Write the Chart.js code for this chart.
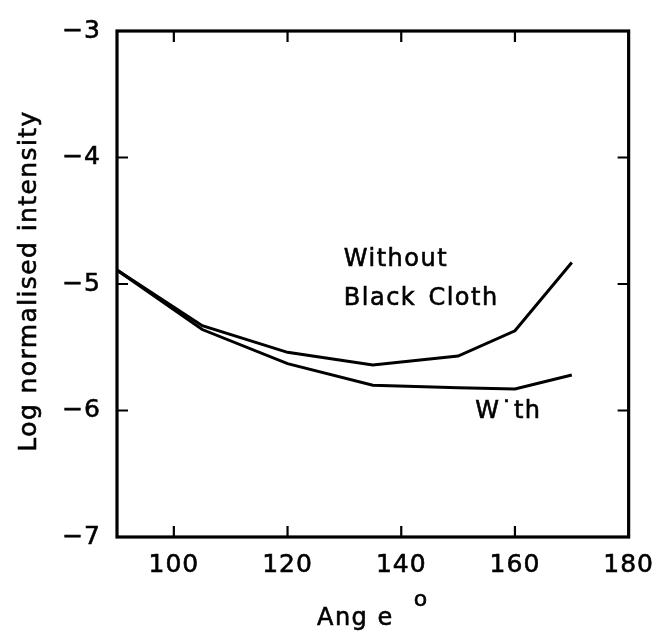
<!DOCTYPE html>
<html>
<head>
<meta charset="utf-8">
<script src="https://cdn.jsdelivr.net/npm/chart.js@4"></script>
<style>
  html, body { margin: 0; padding: 0; background: #fff; }
</style>
</head>
<body>
<canvas id="chartCanvas" width="667" height="637"></canvas>
<script>
// data
const angles = [90, 105, 120, 135, 150, 160, 170];
const withoutCloth = [-4.89, -5.33, -5.54, -5.64, -5.57, -5.37, -4.83];
const withCloth = [-4.89, -5.36, -5.63, -5.80, -5.82, -5.83, -5.72];

const xTicks = [100, 120, 140, 160, 180];
const yTicks = [-7, -6, -5, -4, -3];

// curve labels, placed in data coordinates (x, baseline y)
const curveLabels = [
    { text: "Without", x: 129.9, y: -4.86 },
    { text: "Black Cloth", x: 129.9, y: -5.165 },
    { text: "W\u02D9th", x: 153.0, y: -6.058 },
];

const FONT = "'DejaVu Sans', sans-serif";

function drawText(ctx, text, x, y) {
    ctx.fillText(text, x, y);
    ctx.strokeText(text, x, y);
}

// frame, inward ticks, curve labels and axis titles
const framePlugin = {
    id: "frame",
    beforeLayout(chart) { chart.ctx.letterSpacing = "1px"; },
    beforeDraw(chart) { chart.ctx.letterSpacing = "1px"; },
    afterDraw(chart) {
        const ctx = chart.ctx;
        const a = chart.chartArea;
        const xs = chart.scales.x;
        const ys = chart.scales.y;
        ctx.save();
        ctx.strokeStyle = "#000";
        ctx.lineWidth = 3.2;
        ctx.strokeRect(a.left, a.top, a.right - a.left, a.bottom - a.top);

        ctx.lineWidth = 2.2;
        const len = 11;
        ctx.beginPath();
        xTicks.forEach(v => {
            const px = xs.getPixelForValue(v);
            if (px >= a.right - 1) return;
            ctx.moveTo(px, a.bottom); ctx.lineTo(px, a.bottom - len);
            ctx.moveTo(px, a.top); ctx.lineTo(px, a.top + len);
        });
        yTicks.forEach(v => {
            const py = ys.getPixelForValue(v);
            if (py <= a.top + 1 || py >= a.bottom - 1) return;
            ctx.moveTo(a.left, py); ctx.lineTo(a.left + len, py);
            ctx.moveTo(a.right, py); ctx.lineTo(a.right - len, py);
        });
        ctx.stroke();

        ctx.fillStyle = "#000";
        ctx.lineWidth = 0.6;
        ctx.textBaseline = "alphabetic";
        ctx.textAlign = "left";

        ctx.font = "24px " + FONT;
        ctx.letterSpacing = "1.5px";
        ctx.wordSpacing = "3px";
        curveLabels.forEach(l => {
            drawText(ctx, l.text, xs.getPixelForValue(l.x), ys.getPixelForValue(l.y));
        });
        ctx.wordSpacing = "0px";

        // x axis title with raised degree sign
        const main = "Ang e";
        ctx.font = "24px " + FONT;
        const w1 = ctx.measureText(main).width;
        ctx.font = "22px " + FONT;
        const w2 = ctx.measureText("o").width;
        const gap = 20;
        const cx = (a.left + a.right) / 2;
        const x0 = cx - (w1 + gap + w2) / 2;
        ctx.font = "24px " + FONT;
        drawText(ctx, main, x0, 625);
        ctx.font = "22px " + FONT;
        drawText(ctx, "o", x0 + w1 + gap, 606);

        // y axis title, rotated
        ctx.save();
        ctx.font = "25px " + FONT;
        ctx.letterSpacing = "1.4px";
        ctx.translate(36, (a.top + a.bottom) / 2 - 3);
        ctx.rotate(-Math.PI / 2);
        ctx.textAlign = "center";
        drawText(ctx, "Log normalised intensity", 0, 0);
        ctx.restore();
        ctx.restore();
    }
};

const ctx = document.getElementById("chartCanvas").getContext("2d");
const chart = new Chart(ctx, {
    type: "line",
    data: {
        labels: angles,
        datasets: [
            {
                label: "Without Black Cloth",
                data: angles.map((a, i) => ({ x: a, y: withoutCloth[i] })),
                borderColor: "#000",
                borderWidth: 3,
                pointRadius: 0,
                tension: 0,
                fill: false,
            },
            {
                label: "With",
                data: angles.map((a, i) => ({ x: a, y: withCloth[i] })),
                borderColor: "#000",
                borderWidth: 3,
                pointRadius: 0,
                tension: 0,
                fill: false,
            },
        ],
    },
    options: {
        responsive: false,
        animation: false,
        devicePixelRatio: 1,
        layout: { padding: { left: 0, right: 36, top: 23, bottom: 0 } },
        plugins: {
            legend: { display: false },
            tooltip: { enabled: false },
            title: { display: false },
        },
        scales: {
            x: {
                type: "linear",
                min: 90,
                max: 180,
                grid: { display: false, drawTicks: false },
                border: { display: false },
                afterBuildTicks: s => { s.ticks = xTicks.map(v => ({ value: v })); },
                afterFit: s => { s.height = 100; },
                ticks: {
                    color: "#000",
                    padding: 13,
                    maxRotation: 0,
                    autoSkip: false,
                    textStrokeColor: "#000",
                    textStrokeWidth: 0.6,
                    font: { family: FONT, size: 25 },
                },
            },
            y: {
                type: "linear",
                min: -7,
                max: -3,
                grid: { display: false, drawTicks: false },
                border: { display: false },
                afterBuildTicks: s => { s.ticks = yTicks.map(v => ({ value: v })); },
                afterFit: s => { s.width = 117; },
                ticks: {
                    color: "#000",
                    padding: 16,
                    textStrokeColor: "#000",
                    textStrokeWidth: 0.6,
                    font: { family: FONT, size: 25 },
                    callback: v => (v < 0 ? "\u2212" + Math.abs(v) : String(v)),
                },
            },
        },
    },
    plugins: [framePlugin],
});
</script>
</body>
</html>
